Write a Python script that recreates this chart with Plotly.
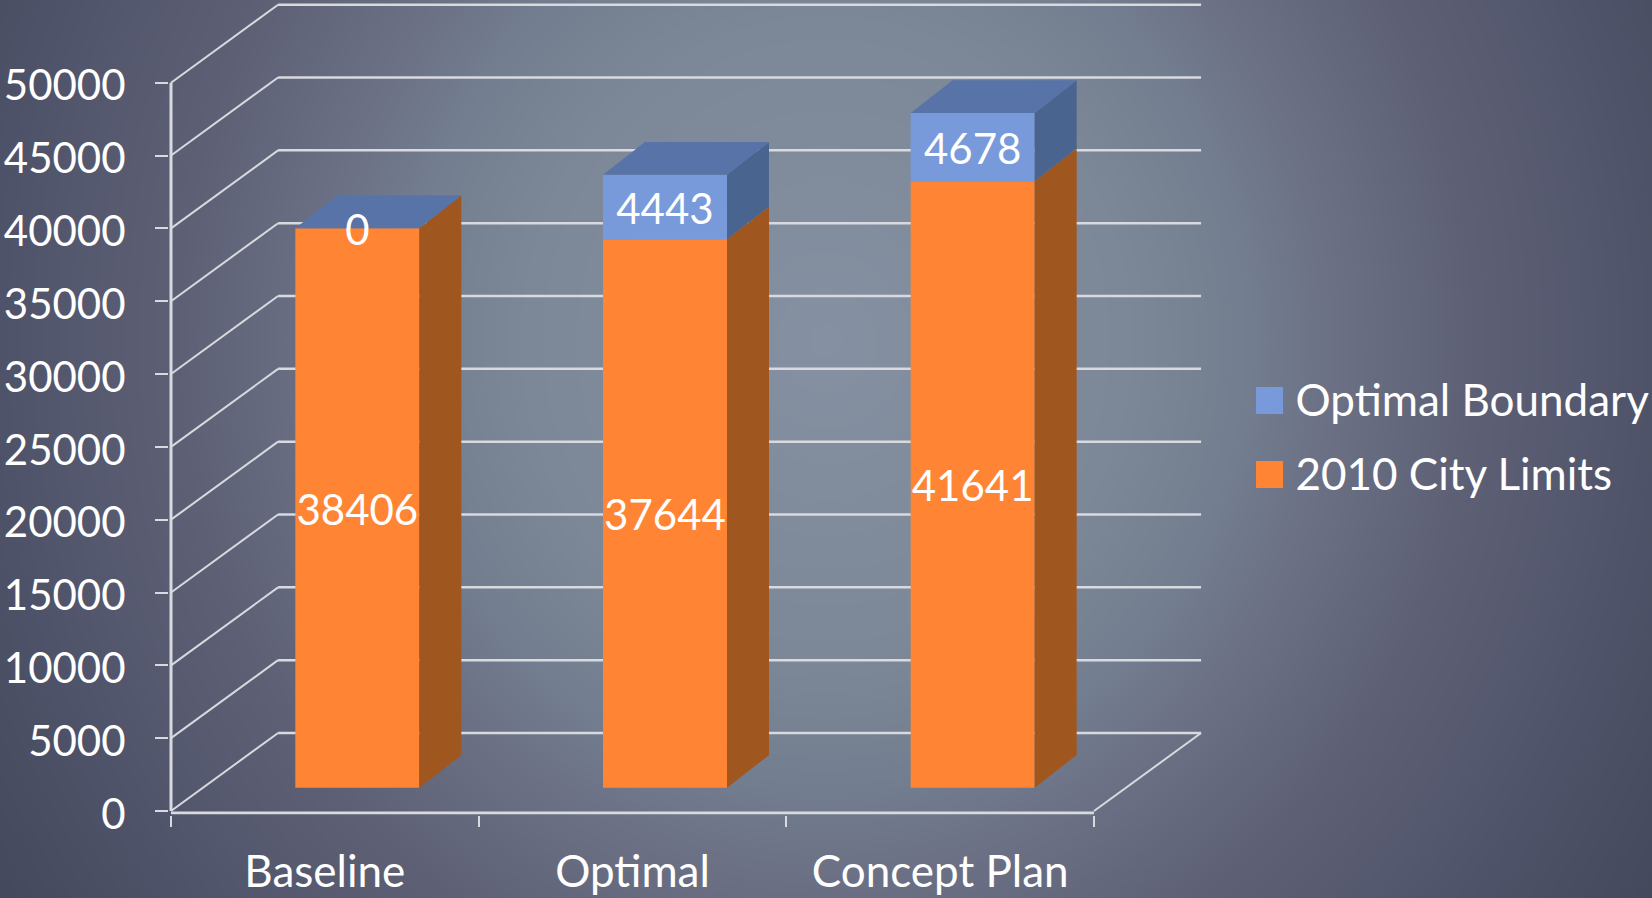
import numpy as np
import plotly.graph_objects as go

# Chart data
categories = ["Baseline", "Optimal", "Concept Plan"]
city_limits = [38406, 37644, 41641]
optimal_boundary = [0, 4443, 4678]
y_ticks = [0, 5000, 10000, 15000, 20000, 25000, 30000, 35000, 40000, 45000, 50000]
series_names = ["2010 City Limits", "Optimal Boundary"]

# Pseudo-3D projection, in axis units: depth shifts a point right and upward
WALL_DX, WALL_DY = 0.348, 5355
BAR_SHIFT_X, BAR_BASE = 0.1056, 1600
BAR_DX, BAR_DY = 0.1365, 2245
BAR_WIDTH = 0.403
LABEL_NUDGE = 430
AXIS_DROP = 137

W, H = 1652, 898
TEXT = "#FFFFFF"
LINE = "#D8DADF"
FONT = "Lato"
ORANGE, ORANGE_SIDE = "#FF8534", "#A0561F"
BLUE, BLUE_SIDE, BLUE_TOP = "#789ADB", "#4A6490", "#5773A7"

# Plot box on the page and the scale of each axis inside it
PX_PER_CAT, PX_PER_VALUE = 307.67, 728.3 / 50000
ORIGIN_X, ORIGIN_Y = 171, 811
BOX_L, BOX_R, BOX_T, BOX_B = 169, 1210, 0, 814.5
x_range = [(BOX_L - ORIGIN_X) / PX_PER_CAT, (BOX_R - ORIGIN_X) / PX_PER_CAT]
y_range = [(ORIGIN_Y - BOX_B) / PX_PER_VALUE, (ORIGIN_Y - BOX_T) / PX_PER_VALUE]
box_x = [BOX_L / W, BOX_R / W]
box_y = [1 - BOX_B / H, 1 - BOX_T / H]

fig = go.Figure()

# Backdrop: soft elliptical gradient on its own full-page axes
gx, gy = np.meshgrid(np.linspace(0, W, 166), np.linspace(0, H, 90))
ramp = np.sqrt(((gx - 826) / 500) ** 2 + ((gy - 340) / 530) ** 2)
stops = [(0, "#8590A2"), (0.3, "#7C8797"), (0.425, "#727D8F"), (0.5, "#6C7185"),
         (0.65, "#5D6075"), (0.825, "#4F5369"), (1, "#43475A")]
fig.add_trace(go.Heatmap(z=ramp, x=gx[0], y=gy[:, 0], zmin=0, zmax=2, colorscale=stops,
                         zsmooth="best", showscale=False, hoverinfo="skip",
                         xaxis="x", yaxis="y"))

# Back wall and side wall gridlines
wall_x, wall_y, side_x, side_y = [], [], [], []
for v in y_ticks:
    wall_x += [WALL_DX, 3 + WALL_DX, None]
    wall_y += [v + WALL_DY, v + WALL_DY, None]
    side_x += [0, WALL_DX, None]
    side_y += [v, v + WALL_DY, None]
side_x += [3, 3 + WALL_DX]
side_y += [0, WALL_DY]
fig.add_trace(go.Scatter(x=wall_x, y=wall_y, mode="lines", hoverinfo="skip",
                         line=dict(color=LINE, width=2.5), showlegend=False, xaxis="x2", yaxis="y2"))
fig.add_trace(go.Scatter(x=side_x, y=side_y, mode="lines", hoverinfo="skip",
                         line=dict(color=LINE, width=2), showlegend=False, xaxis="x2", yaxis="y2"))

# Axis lines, stopping at the front plane's corners
fig.add_trace(go.Scatter(x=[0, 0, None, 0, 3], y=[y_ticks[-1], 0, None, -AXIS_DROP, -AXIS_DROP], mode="lines",
                         hoverinfo="skip", line=dict(color=LINE, width=3), showlegend=False,
                         xaxis="x2", yaxis="y2"))

# Front faces of the stacked columns
centers = [i + 0.5 + BAR_SHIFT_X for i in range(len(categories))]
lower = [BAR_BASE] * len(categories)
upper = [b + v for b, v in zip(lower, city_limits)]
tops = [b + v for b, v in zip(upper, optimal_boundary)]
fig.add_trace(go.Bar(x=centers, y=city_limits, base=lower, width=BAR_WIDTH, marker=dict(color=ORANGE, line_width=0),
                     name=series_names[0], showlegend=False, xaxis="x3", yaxis="y3"))
fig.add_trace(go.Bar(x=centers, y=optimal_boundary, base=upper, width=BAR_WIDTH, marker=dict(color=BLUE, line_width=0),
                     name=series_names[1], showlegend=False, xaxis="x3", yaxis="y3"))


def face(points, color):
    xs, ys = zip(*points)
    fig.add_trace(go.Scatter(x=xs, y=ys, mode="lines", fill="toself", fillcolor=color, line=dict(width=0),
                             hoverinfo="skip", showlegend=False, xaxis="x3", yaxis="y3"))


# Side and top faces, projected from the same stacked values
for c, lo, mid, top in zip(centers, lower, upper, tops):
    right = c + BAR_WIDTH / 2
    left = c - BAR_WIDTH / 2
    face([(right, lo), (right + BAR_DX, lo + BAR_DY), (right + BAR_DX, mid + BAR_DY), (right, mid)], ORANGE_SIDE)
    if top > mid:
        face([(right, mid), (right + BAR_DX, mid + BAR_DY), (right + BAR_DX, top + BAR_DY), (right, top)], BLUE_SIDE)
    face([(left, top), (left + BAR_DX, top + BAR_DY), (right + BAR_DX, top + BAR_DY), (right, top)], BLUE_TOP)

# Value labels centred on each segment
value_font = dict(family=FONT, size=42, color=TEXT)
name_font = dict(family=FONT, size=44, color=TEXT)
fig.add_trace(go.Scatter(x=centers, y=[(a + b) / 2 - LABEL_NUDGE for a, b in zip(lower, upper)],
                         text=[str(v) for v in city_limits], mode="text", textfont=value_font,
                         textposition="middle center", hoverinfo="skip", showlegend=False, xaxis="x3", yaxis="y3"))
fig.add_trace(go.Scatter(x=centers, y=[(a + b) / 2 - LABEL_NUDGE for a, b in zip(upper, tops)],
                         text=[str(v) for v in optimal_boundary], mode="text", textfont=value_font,
                         textposition="middle center", hoverinfo="skip", showlegend=False, xaxis="x3", yaxis="y3"))

# Key at the right: square swatches with series names
key_rows = list(range(len(series_names)))
fig.add_trace(go.Scatter(x=[0] * len(key_rows), y=key_rows, mode="markers",
                         marker=dict(symbol="square", size=27, color=[ORANGE, BLUE], line_width=0),
                         cliponaxis=False, hoverinfo="skip", showlegend=False, xaxis="x4", yaxis="y4"))
fig.add_trace(go.Scatter(x=[26] * len(key_rows), y=[r - 0.06 for r in key_rows], text=series_names, mode="text",
                         textposition="middle right", textfont=name_font, cliponaxis=False,
                         hoverinfo="skip", showlegend=False, xaxis="x4", yaxis="y4"))

hidden = dict(visible=False, fixedrange=True, automargin=False)
fig.update_layout(
    width=W, height=H, autosize=False, margin=dict(l=0, r=0, t=0, b=0),
    paper_bgcolor="#5A5E72", plot_bgcolor="rgba(0,0,0,0)", barmode="overlay", showlegend=False,
    font=dict(family=FONT, color=TEXT),
    xaxis=dict(domain=[0, 1], range=[0, W], **hidden),
    yaxis=dict(domain=[0, 1], range=[H, 0], **hidden),
    xaxis2=dict(domain=box_x, range=x_range, anchor="y2", showgrid=False, zeroline=False, automargin=False,
                showline=False, tickmode="array",
                tickvals=[i + 0.5 for i in range(len(categories))], ticktext=categories, ticks="",
                tickfont=name_font, ticklabelstandoff=27,
                minor=dict(tickmode="array", tickvals=[0, 1, 2, 3], ticks="outside", ticklen=11,
                           tickwidth=2, tickcolor=LINE, showgrid=False)),
    yaxis2=dict(domain=box_y, range=y_range, anchor="x2", showgrid=False, zeroline=False, automargin=False,
                showline=False, tickmode="array", tickvals=y_ticks, ticktext=[str(v) for v in y_ticks],
                ticks="outside", ticklen=13, tickwidth=2, tickcolor=LINE,
                tickfont=value_font, ticklabelstandoff=21, ticklabelshift=3),
    xaxis3=dict(domain=box_x, range=x_range, anchor="y3", overlaying="x2", **hidden),
    yaxis3=dict(domain=box_y, range=y_range, anchor="x3", overlaying="y2", **hidden),
    xaxis4=dict(domain=[1269.5 / W, 1], range=[0, W - 1269.5], anchor="y4", **hidden),
    yaxis4=dict(domain=[1 - 511.5 / H, 1 - 363.5 / H], range=[-0.5, 1.5], anchor="x4", **hidden),
)

fig.write_html("out.html", config=dict(displayModeBar=False))
